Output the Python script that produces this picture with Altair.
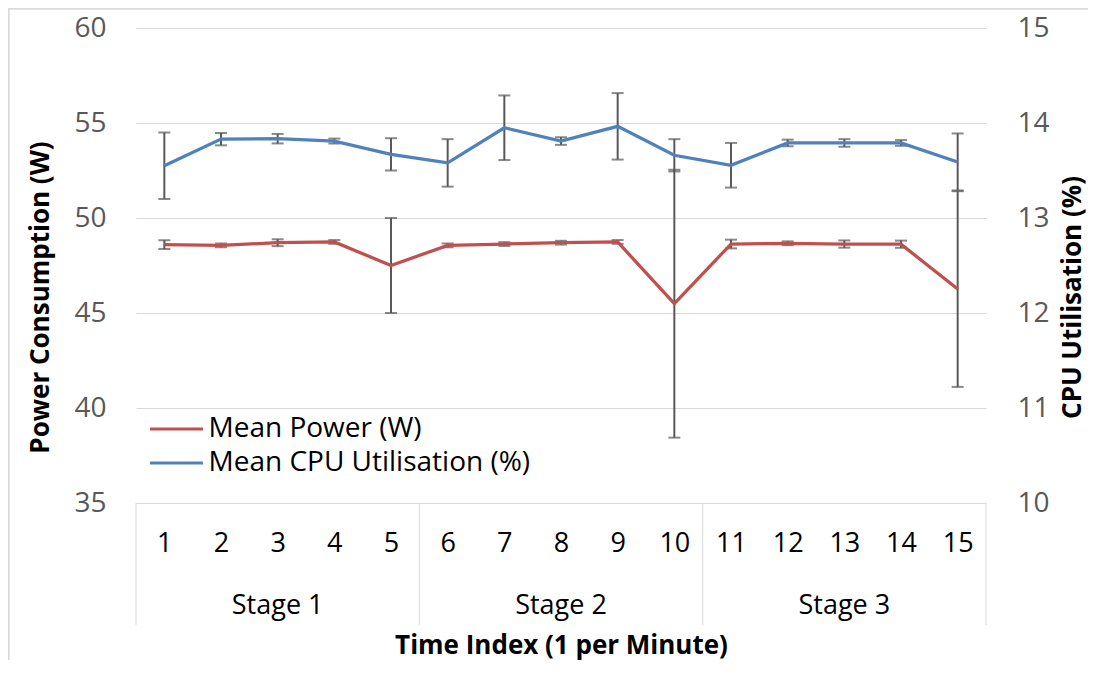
import altair as alt
import pandas as pd

# ---------------- data ----------------
time_index = list(range(1, 16))
stages = ["Stage 1", "Stage 2", "Stage 3"]
stage_len = 5

power_mean = [48.60, 48.56, 48.70, 48.74, 47.50, 48.56, 48.63, 48.70, 48.74, 45.49,
              48.63, 48.67, 48.63, 48.62, 46.26]
power_err = [0.23, 0.10, 0.18, 0.10, 2.50, 0.10, 0.10, 0.10, 0.10, 7.05,
             0.23, 0.10, 0.19, 0.19, 5.15]
cpu_mean = [13.55, 13.83, 13.835, 13.81, 13.67, 13.58, 13.95, 13.81, 13.965, 13.66,
            13.555, 13.79, 13.79, 13.79, 13.59]
cpu_err = [0.35, 0.065, 0.05, 0.026, 0.17, 0.25, 0.34, 0.04, 0.35, 0.17,
           0.235, 0.035, 0.04, 0.03, 0.30]

series_names = ["Mean Power (W)", "Mean CPU Utilisation (%)"]
series_colors = ["#C0504D", "#4F81BD"]

left_ticks = [35, 40, 45, 50, 55, 60]
right_ticks = [10, 11, 12, 13, 14, 15]

# ---------------- tables ----------------
df = pd.DataFrame({
    "t": time_index,
    "p": power_mean,
    "p_lo": [m - e for m, e in zip(power_mean, power_err)],
    "p_hi": [m + e for m, e in zip(power_mean, power_err)],
    "c": cpu_mean,
    "c_lo": [m - e for m, e in zip(cpu_mean, cpu_err)],
    "c_hi": [m + e for m, e in zip(cpu_mean, cpu_err)],
})
stage_df = pd.DataFrame({
    "stage": stages,
    "mid": [1 + i * stage_len + (stage_len - 1) / 2 for i in range(len(stages))],
})
bounds_df = pd.DataFrame({"b": [0.5 + i * stage_len for i in range(len(stages) + 1)]})

W, H = 850, 475
FONT = "Open Sans"
GRID = "#d9d9d9"
ERR = "#595959"

x_scale = alt.Scale(domain=[0.5, 15.5], nice=False, zero=False)
x_axis = alt.Axis(values=time_index, format="d", grid=False, ticks=False,
                  domain=True, domainColor=GRID, domainWidth=1,
                  labelFontSize=27, labelColor="#000000", labelFont=FONT,
                  labelPadding=40, labelBaseline="middle", labelOverlap=False,
                  labelFlush=False,
                  title="Time Index (1 per Minute)", titleFont=FONT,
                  titleFontSize=26, titleFontWeight="bold", titleColor="#000000",
                  titleY=150, titleBaseline="alphabetic")

yl_scale = alt.Scale(domain=[35, 60], nice=False, zero=False)
yl_axis = alt.Axis(values=left_ticks, grid=True, gridColor=GRID, gridWidth=1,
                   domain=False, ticks=False, labelFontSize=28, labelFont=FONT,
                   labelColor="#595959", labelPadding=30,
                   title="Power Consumption (W)", titleFont=FONT, titleFontSize=26,
                   titleFontWeight="bold", titleColor="#000000",
                   titleAngle=270, titleX=-96, titleY=269, titleBaseline="middle",
                   titleAlign="center")

yr_scale = alt.Scale(domain=[10, 15], nice=False, zero=False)
yr_axis = alt.Axis(values=right_ticks, orient="right", grid=False,
                   domain=False, ticks=False, labelFontSize=28, labelFont=FONT,
                   labelColor="#595959", labelPadding=31,
                   title="CPU Utilisation (%)", titleFont=FONT, titleFontSize=26,
                   titleFontWeight="bold", titleColor="#000000",
                   titleAngle=270, titleX=86, titleY=269, titleBaseline="middle",
                   titleAlign="center")

color_scale = alt.Scale(domain=series_names, range=series_colors)
legend = alt.Legend(orient="none", legendX=12.5, legendY=386, symbolType="stroke",
                    symbolSize=2809, symbolStrokeWidth=3, labelFontSize=28,
                    labelFont=FONT, labelColor="#000000", clipHeight=30,
                    rowPadding=4, labelOffset=4, labelLimit=0, title=None, padding=0)
COLOR = alt.Color("series:N", scale=color_scale, legend=legend)

base = alt.Chart(df)
X = alt.X("t:Q", scale=x_scale, axis=x_axis)

# ---- power (left axis) ----
p_rule = base.mark_rule(color=ERR, strokeWidth=2).encode(
    x=X, y=alt.Y("p_lo:Q", scale=yl_scale, axis=yl_axis), y2="p_hi:Q")
p_cap_lo = base.mark_tick(orient="horizontal", size=12, thickness=2, color=ERR).encode(
    x=X, y=alt.Y("p_lo:Q", scale=yl_scale, axis=yl_axis))
p_cap_hi = base.mark_tick(orient="horizontal", size=12, thickness=2, color=ERR).encode(
    x=X, y=alt.Y("p_hi:Q", scale=yl_scale, axis=yl_axis))
p_line = base.transform_calculate(series=f"'{series_names[0]}'").mark_line(
    strokeWidth=3.25).encode(
    x=X, y=alt.Y("p:Q", scale=yl_scale, axis=yl_axis), color=COLOR)

separators = alt.Chart(bounds_df).mark_rule(color=GRID, strokeWidth=1).encode(
    x=alt.X("b:Q", scale=x_scale, axis=x_axis),
    y=alt.value(H), y2=alt.value(H + 122))
stage_text = alt.Chart(stage_df).mark_text(font=FONT, fontSize=27, color="#000000",
                                           baseline="middle", align="center").encode(
    x=alt.X("mid:Q", scale=x_scale, axis=x_axis), y=alt.value(H + 103), text="stage:N")

left = alt.layer(p_rule, p_cap_lo, p_cap_hi, p_line, separators, stage_text)

# ---- cpu (right axis) ----
c_rule = base.mark_rule(color=ERR, strokeWidth=2).encode(
    x=X, y=alt.Y("c_lo:Q", scale=yr_scale, axis=yr_axis), y2="c_hi:Q")
c_cap_lo = base.mark_tick(orient="horizontal", size=12, thickness=2, color=ERR).encode(
    x=X, y=alt.Y("c_lo:Q", scale=yr_scale, axis=yr_axis))
c_cap_hi = base.mark_tick(orient="horizontal", size=12, thickness=2, color=ERR).encode(
    x=X, y=alt.Y("c_hi:Q", scale=yr_scale, axis=yr_axis))
c_line = base.transform_calculate(series=f"'{series_names[1]}'").mark_line(
    strokeWidth=3.25).encode(
    x=X, y=alt.Y("c:Q", scale=yr_scale, axis=yr_axis), color=COLOR)

right = alt.layer(c_rule, c_cap_lo, c_cap_hi, c_line)

# chart-area border (left and top edges)
border_l = alt.Chart(bounds_df).mark_rule(color=GRID, strokeWidth=1.5).encode(
    x=alt.value(-127.5), y=alt.value(-20), y2=alt.value(H + 200))
border_t = alt.Chart(bounds_df).mark_rule(color=GRID, strokeWidth=1.5).encode(
    y=alt.value(-19.5), x=alt.value(-128), x2=alt.value(W + 200))

chart = alt.layer(border_l, border_t, left, right).resolve_scale(
    y="independent"
).properties(
    width=W, height=H,
    autosize=alt.AutoSizeParams(type="none"),
    padding={"left": 128, "top": 20, "right": 102, "bottom": 157},
    background="white",
).configure_view(stroke=None)

chart.save("out.html", embed_options={"renderer": "svg", "actions": False})
